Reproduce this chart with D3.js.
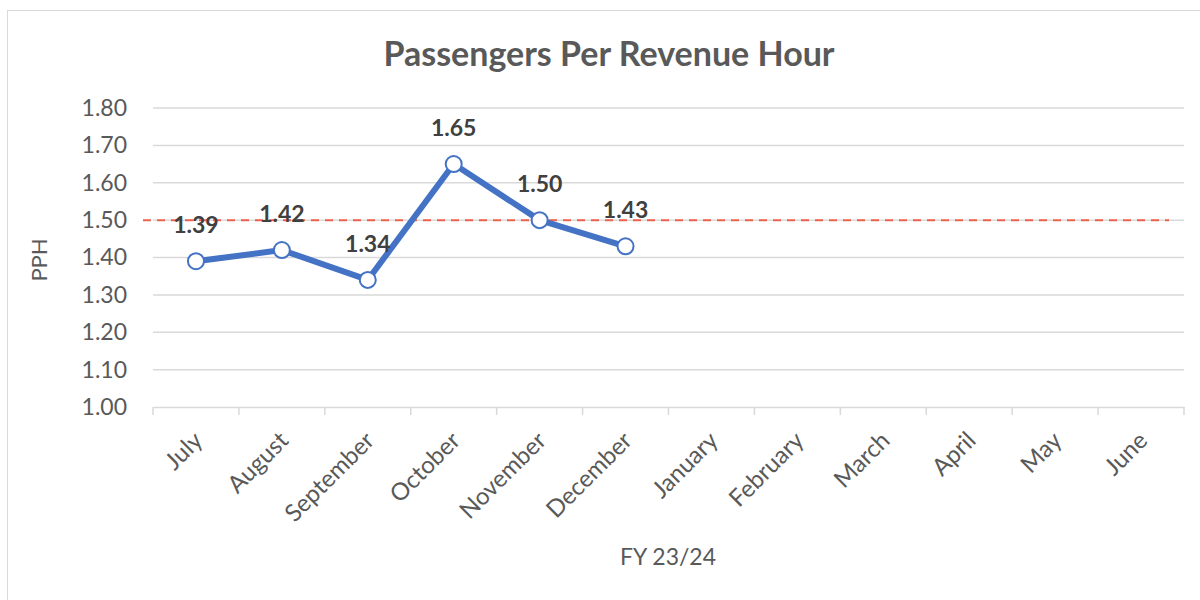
<!DOCTYPE html>
<html>
<head>
<meta charset="utf-8">
<script src="https://cdn.jsdelivr.net/npm/d3@7"></script>
<style>
  body { margin: 0; background: #fff; }
  svg text { font-family: Lato, "Open Sans", sans-serif; }
</style>
</head>
<body>
<svg width="1200" height="600"></svg>
<script>
// chart data
const months = ["July", "August", "September", "October", "November", "December",
  "January", "February", "March", "April", "May", "June"];
const pph = [1.39, 1.42, 1.34, 1.65, 1.50, 1.43];
const yTicks = [1.0, 1.1, 1.2, 1.3, 1.4, 1.5, 1.6, 1.7, 1.8];
const target = 1.50;

const svg = d3.select("svg");
const plotL = 153, plotR = 1184, plotT = 108, plotB = 407;

// outer border
svg.append("rect")
  .attr("x", 7.5).attr("y", 10.5)
  .attr("width", 1200).attr("height", 600)
  .style("fill", "none")
  .style("stroke", "#d9d9d9");

const x = d3.scaleBand().domain(months).range([plotL, plotR]);
const y = d3.scaleLinear().domain([1.0, 1.8]).range([plotB, plotT]);

// gridlines
svg.append("g")
  .selectAll("line")
  .data(yTicks.slice(1))
  .enter()
  .append("line")
  .attr("x1", plotL).attr("x2", plotR)
  .attr("y1", d => y(d)).attr("y2", d => y(d))
  .style("stroke", "#d9d9d9")
  .style("stroke-width", 1.5);

// y axis labels
const yAxis = svg.append("g")
  .attr("transform", `translate(${plotL},0)`)
  .call(d3.axisLeft(y).tickValues(yTicks).tickFormat(d3.format(".2f")).tickSize(0).tickPadding(26));
yAxis.select(".domain").remove();
yAxis.selectAll("text")
  .style("font-size", "23px")
  .style("fill", "#595959");

// x axis
const xAxis = svg.append("g")
  .attr("transform", `translate(0,${plotB})`)
  .call(d3.axisBottom(x).tickSize(0));
xAxis.select(".domain")
  .style("stroke", "#d9d9d9").style("stroke-width", 1.5);
xAxis.selectAll(".tick line").remove();
xAxis.selectAll("text")
  .style("font-size", "24px")
  .style("fill", "#595959")
  .style("text-anchor", "end")
  .attr("dy", null)
  .attr("y", 0)
  .attr("transform", "translate(8,35) rotate(-45)");

// x tick marks at band edges
svg.append("g")
  .selectAll("line")
  .data(months.map(m => x(m)).concat([plotR]))
  .enter()
  .append("line")
  .attr("x1", d => d).attr("x2", d => d)
  .attr("y1", plotB).attr("y2", plotB + 8)
  .style("stroke", "#d9d9d9")
  .style("stroke-width", 1.5);

// target line
svg.append("line")
  .attr("x1", 143).attr("x2", 1169)
  .attr("y1", y(target)).attr("y2", y(target))
  .style("stroke", "#f0604f")
  .style("stroke-width", 2)
  .style("stroke-dasharray", "8,6");

const pts = pph.map((v, i) => ({ m: months[i], v: v }));
const cx = d => x(d.m) + x.bandwidth() / 2;

svg.append("path")
  .datum(pts)
  .attr("d", d3.line().x(cx).y(d => y(d.v)))
  .style("fill", "none")
  .style("stroke", "#4472c4")
  .style("stroke-width", 6)
  .style("stroke-linejoin", "round");

svg.selectAll(".pt")
  .data(pts)
  .enter()
  .append("circle")
  .attr("class", "pt")
  .attr("cx", cx)
  .attr("cy", d => y(d.v))
  .attr("r", 8)
  .style("fill", "#fff")
  .style("stroke", "#4472c4")
  .style("stroke-width", 2);

svg.selectAll(".lbl")
  .data(pts)
  .enter()
  .append("text")
  .attr("class", "lbl")
  .attr("x", cx)
  .attr("y", d => y(d.v) - 28)
  .attr("text-anchor", "middle")
  .style("font-size", "23px")
  .style("font-weight", "bold")
  .style("fill", "#404040")
  .text(d => d.v.toFixed(2));

// titles
svg.append("text")
  .attr("x", 609).attr("y", 66)
  .attr("text-anchor", "middle")
  .style("font-size", "34px")
  .style("font-weight", "bold")
  .style("fill", "#595959")
  .text("Passengers Per Revenue Hour");

svg.append("text")
  .attr("x", 668).attr("y", 565)
  .attr("text-anchor", "middle")
  .style("font-size", "23px")
  .style("fill", "#595959")
  .text("FY 23/24");

svg.append("text")
  .attr("transform", `translate(47,260) rotate(-90)`)
  .attr("text-anchor", "middle")
  .style("font-size", "22px")
  .style("fill", "#595959")
  .text("PPH");
</script>
</body>
</html>
